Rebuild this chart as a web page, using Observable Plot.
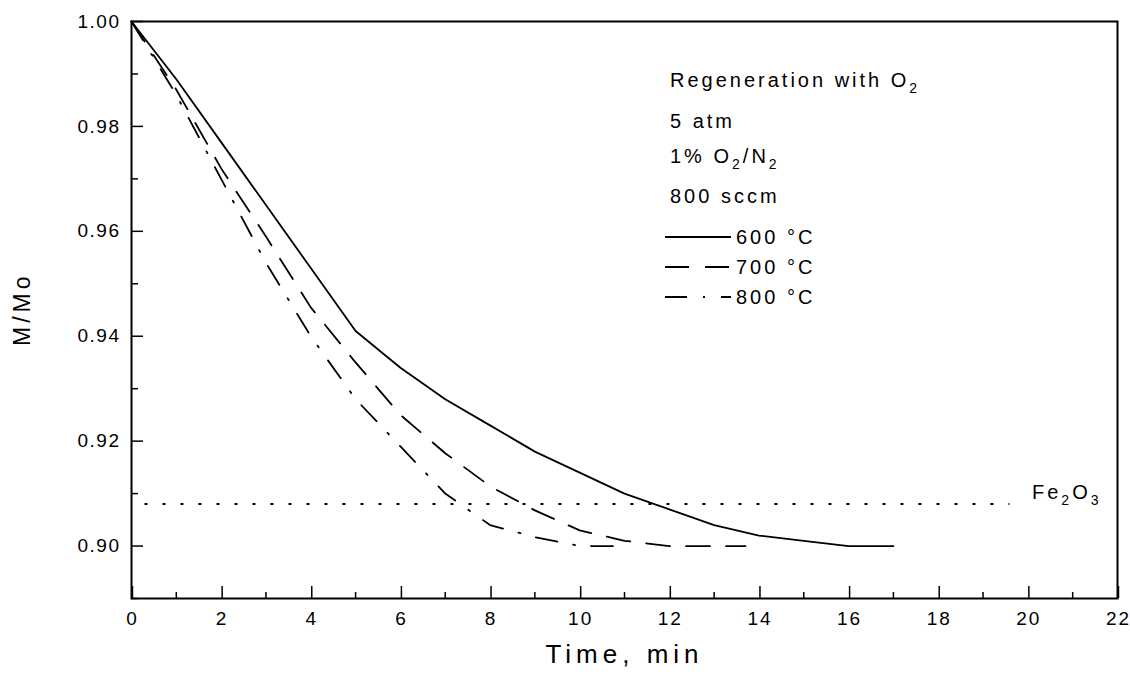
<!DOCTYPE html>
<html>
<head>
<meta charset="utf-8">
<script src="https://cdn.jsdelivr.net/npm/d3@7"></script>
<script src="https://cdn.jsdelivr.net/npm/@observablehq/plot@0.6"></script>
<style>
  html, body { margin: 0; padding: 0; background: #fff; }
  #wrap { position: relative; width: 1130px; height: 681px; }
  #wrap svg { display: block; }
  g[aria-label="x-axis tick label"] text { letter-spacing: 2px; }
  g[aria-label="y-axis tick label"] text { letter-spacing: 1.5px; }
  .xt { letter-spacing: 5px; font-family: "Liberation Sans Narrow", "Liberation Sans", Arial, sans-serif; }
  .yt { letter-spacing: 4px; }
  #legend { position: absolute; left: 0; top: 0; pointer-events: none; }
  #legend text { font-family: "Liberation Sans", Arial, sans-serif; font-size: 20px; letter-spacing: 3px; fill: #000; }
</style>
</head>
<body>
<div id="wrap"></div>
<script>
// ---- data ----
const time600 = [0, 1, 2, 3, 4, 5, 6, 7, 8, 9, 10, 11, 12, 13, 14, 15, 16, 17];
const mass600 = [1.000, 0.989, 0.977, 0.965, 0.953, 0.941, 0.934, 0.928, 0.923, 0.918, 0.914, 0.910, 0.907, 0.904, 0.902, 0.901, 0.900, 0.900];

const time700 = [0, 1, 2, 3, 4, 5, 6, 7, 8, 9, 10, 11, 12, 13, 13.7];
const mass700 = [1.000, 0.987, 0.972, 0.959, 0.9455, 0.935, 0.925, 0.9177, 0.9114, 0.9068, 0.903, 0.901, 0.900, 0.900, 0.900];

const time800 = [0, 1, 2, 3, 4, 5, 6, 7, 8, 9, 10, 11];
const mass800 = [1.000, 0.986, 0.970, 0.954, 0.940, 0.928, 0.919, 0.910, 0.904, 0.9017, 0.900, 0.900];

const fe2o3Level = [0.908];
const fe2o3Span = [0.3, 19.6];

const xMajor = [0, 2, 4, 6, 8, 10, 12, 14, 16, 18, 20, 22];
const xMinor = [1, 3, 5, 7, 9, 11, 13, 15, 17, 19, 21];
const yMajor = [0.90, 0.92, 0.94, 0.96, 0.98, 1.00];
const yMinor = [0.89, 0.91, 0.93, 0.95, 0.97, 0.99];

const xTitle = "Time, min";
const yTitle = "M/Mo";
const seriesNames = ["600 °C", "700 °C", "800 °C"];
const dashes = ["none", "24,16", "22,16,2,16"];

const toRows = (ts, ms) => ts.map((t, i) => ({t, m: ms[i]}));
const s600 = toRows(time600, mass600);
const s700 = toRows(time700, mass700);
const s800 = toRows(time800, mass800);

const chart = Plot.plot({
  width: 1130,
  height: 681,
  marginLeft: 131,
  marginRight: 13,
  marginTop: 21,
  marginBottom: 83,
  style: {fontFamily: "'Liberation Sans', Arial, sans-serif", background: "#fff", color: "#000"},
  x: {domain: [0, 22]},
  y: {domain: [0.89, 1.00]},
  marks: [
    Plot.axisX(xMajor, {tickSize: -12, tickPadding: 25, tickFormat: d => String(d), fontSize: 19, dx: 1, label: null, strokeWidth: 1.5}),
    Plot.axisX(xMinor, {tickSize: -6, tickFormat: () => "", label: null, strokeWidth: 1.5}),
    Plot.axisY(yMajor, {tickSize: -12, tickPadding: 23, tickFormat: d => d.toFixed(2), fontSize: 19, label: null, strokeWidth: 1.5}),
    Plot.axisY(yMinor, {tickSize: -7, tickFormat: () => "", label: null, strokeWidth: 1.5}),
    Plot.ruleY(fe2o3Level, {x1: fe2o3Span[0], x2: fe2o3Span[1], stroke: "#000", strokeWidth: 2, strokeDasharray: "3,15"}),
    Plot.line(s600, {x: "t", y: "m", stroke: "#000", strokeWidth: 1.8}),
    Plot.line(s700, {x: "t", y: "m", stroke: "#000", strokeWidth: 1.8, strokeDasharray: dashes[1]}),
    Plot.line(s800, {x: "t", y: "m", stroke: "#000", strokeWidth: 1.8, strokeDasharray: dashes[2]}),
    Plot.text(fe2o3Level, {y: d => d, text: () => "Fe2O3", frameAnchor: "right", textAnchor: "end", dx: -16, dy: -11, fontSize: 20, fill: "#000", className: "fe-label"}),
    Plot.text([xTitle], {text: d => d, frameAnchor: "bottom", dy: 64, fontSize: 26, fill: "#000", className: "xt"}),
    Plot.text([yTitle], {text: d => d, frameAnchor: "left", dx: -109, dy: 36, rotate: -90, fontSize: 23, fill: "#000", className: "yt"}),
    Plot.frame({stroke: "#000", strokeWidth: 2})
  ]
});

document.getElementById("wrap").appendChild(chart);

// subscripts for Fe2O3
chart.querySelectorAll(".fe-label text").forEach(t => {
  t.style.letterSpacing = "3px";
  t.innerHTML = 'Fe<tspan dy="6" font-size="14">2</tspan><tspan dy="-6">O</tspan><tspan dy="6" font-size="14">3</tspan>';
});

// legend / annotation block
const NS = "http://www.w3.org/2000/svg";
const leg = document.createElementNS(NS, "svg");
leg.setAttribute("id", "legend");
leg.setAttribute("width", 1130);
leg.setAttribute("height", 681);
const sub = (s) => `<tspan dy="6" font-size="14">${s}</tspan>`;
const lines = [
  {y: 87, html: `Regeneration with O${sub("2")}`},
  {y: 128, html: `5 atm`},
  {y: 163, html: `1% O${sub("2")}<tspan dy="-6">/N</tspan>${sub("2")}`},
  {y: 203, html: `800 sccm`}
];
let html = "";
lines.forEach(l => { html += `<text x="670" y="${l.y}">${l.html}</text>`; });
const legY = [237, 267, 297];
seriesNames.forEach((name, i) => {
  const y = legY[i];
  html += `<line x1="665" x2="731" y1="${y}" y2="${y}" stroke="#000" stroke-width="1.8" ${dashes[i] !== "none" ? `stroke-dasharray="${dashes[i]}"` : ""}/>`;
  html += `<text x="736" y="${y + 7}">${name}</text>`;
});
leg.innerHTML = html;
document.getElementById("wrap").appendChild(leg);
</script>
</body>
</html>
